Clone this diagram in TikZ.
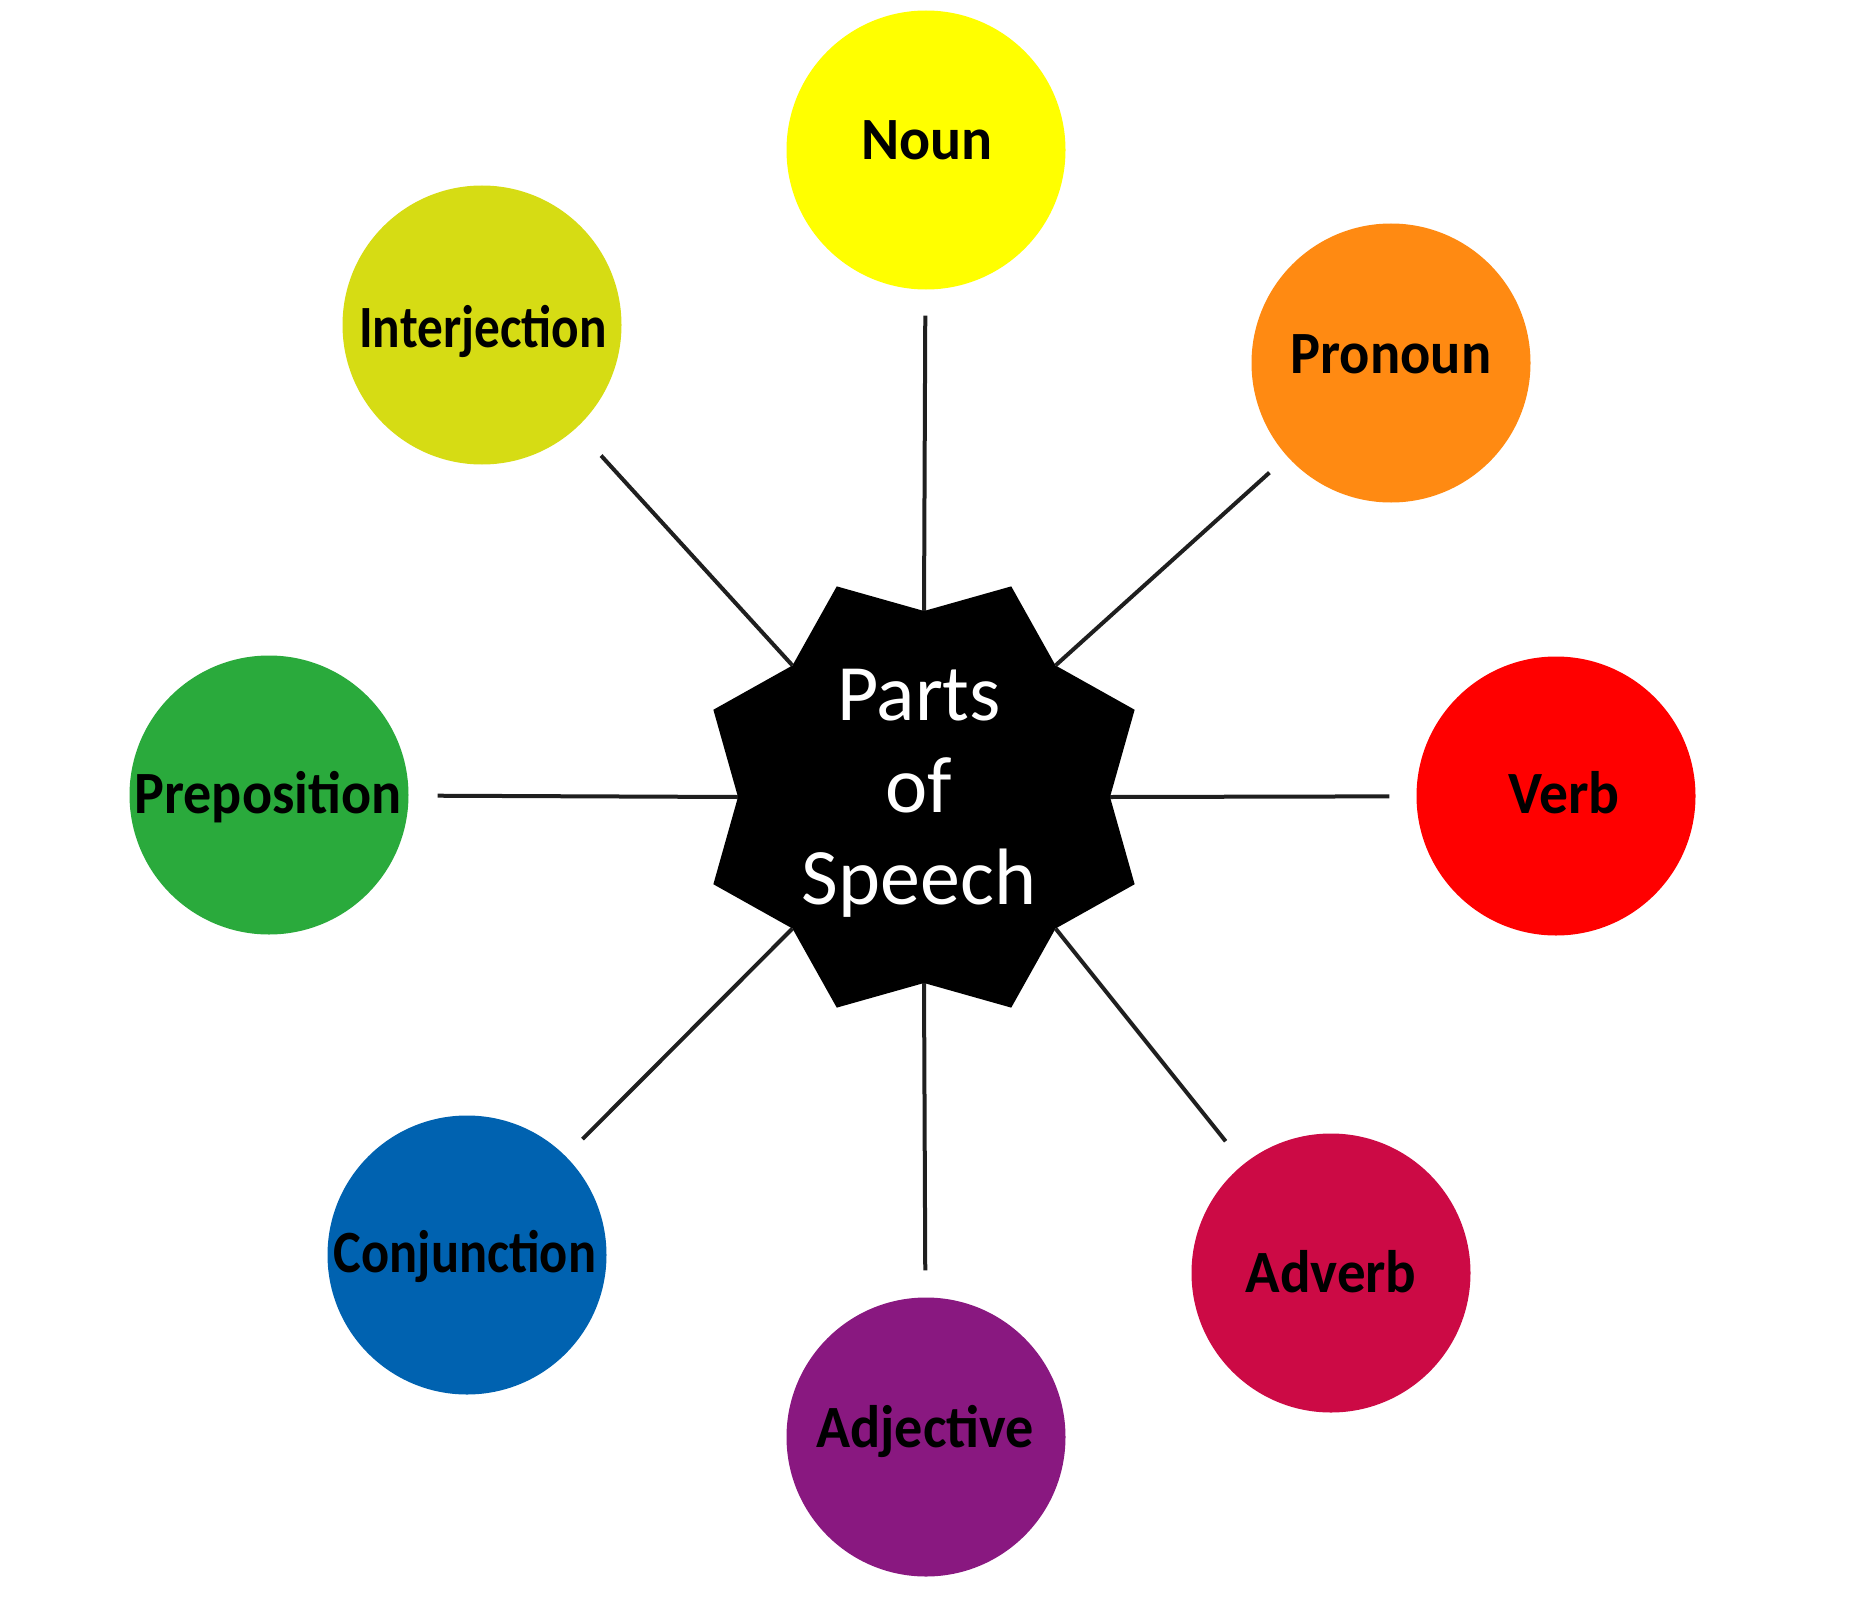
\documentclass[tikz,border=0pt]{standalone}
\usepackage{fontspec}
\setmainfont{Carlito}
\usetikzlibrary{shapes.geometric}
\definecolor{cNoun}{RGB}{255,255,0}
\definecolor{cInter}{RGB}{214,220,20}
\definecolor{cPron}{RGB}{255,138,18}
\definecolor{cVerb}{RGB}{255,0,0}
\definecolor{cAdv}{RGB}{204,10,69}
\definecolor{cAdj}{RGB}{137,24,128}
\definecolor{cConj}{RGB}{0,98,176}
\definecolor{cPrep}{RGB}{42,170,60}
\newcommand{\sqz}[2]{\scalebox{#1}[1]{#2}}
\begin{document}
\begin{tikzpicture}[x=1pt,y=-1pt,
  bubble/.style={circle, minimum size=279pt, inner sep=0pt, draw=none},
  word/.style={anchor=base, inner sep=0pt, text=black, font=\bfseries\fontsize{60}{64}\selectfont},
  spoke/.style={line width=4pt, draw=black!88}]
\useasboundingbox (0,0) rectangle (1850,1616);
% hub
\node[star, star points=8, star point ratio=1.226, minimum size=456pt, inner sep=0pt,
      shape border rotate=22.5, fill=black, draw=none] (hub) at (924,797) {};
\node[inner sep=0pt, align=center, text=white, font=\fontsize{80}{92}\selectfont] (title) at (919,793) {Parts\\of\\Speech};
% bubbles
\node[bubble, fill=cNoun]  (noun)  at (926,150)  {};
\node[bubble, fill=cInter] (inter) at (482,325)  {};
\node[bubble, fill=cPron]  (pron)  at (1391,363) {};
\node[bubble, fill=cVerb]  (verb)  at (1556,796) {};
\node[bubble, fill=cAdv]   (adv)   at (1331,1273) {};
\node[bubble, fill=cAdj]   (adj)   at (926,1437) {};
\node[bubble, fill=cConj]  (conj)  at (467,1255) {};
\node[bubble, fill=cPrep]  (prep)  at (269,795)  {};
% words
\node[word] (tnoun)  at (927,160)   {\sqz{0.965}{Noun}};
\node[word] (tinter) at (483,347)   {\sqz{0.855}{Interjection}};
\node[word] (tpron)  at (1391,373)  {\sqz{0.94}{Pronoun}};
\node[word] (tverb)  at (1564,813)  {\sqz{0.96}{Verb}};
\node[word] (tadv)   at (1331,1292) {\sqz{0.95}{Adverb}};
\node[word] (tadj)   at (925,1447)  {\sqz{0.937}{Adjective}};
\node[word] (tconj)  at (465,1272)  {\sqz{0.873}{Conjunction}};
\node[word] (tprep)  at (268,813)   {\sqz{0.935}{Preposition}};
% spokes
\draw[spoke, shorten >=26pt] (hub.90)  -- (noun);
\draw[spoke, shorten >=37pt] (hub.135) -- (inter);
\draw[spoke, shorten >=24pt] (hub.45)  -- (pron);
\draw[spoke, shorten >=27pt] (hub.0)   -- (verb);
\draw[spoke, shorten >=29pt] (hub.-45) -- (adv);
\draw[spoke, shorten >=27pt] (hub.-90) -- (adj);
\draw[spoke, shorten >=24pt] (hub.-135) -- (conj);
\draw[spoke, shorten >=29pt] (hub.180) -- (prep);
\end{tikzpicture}
\end{document}
